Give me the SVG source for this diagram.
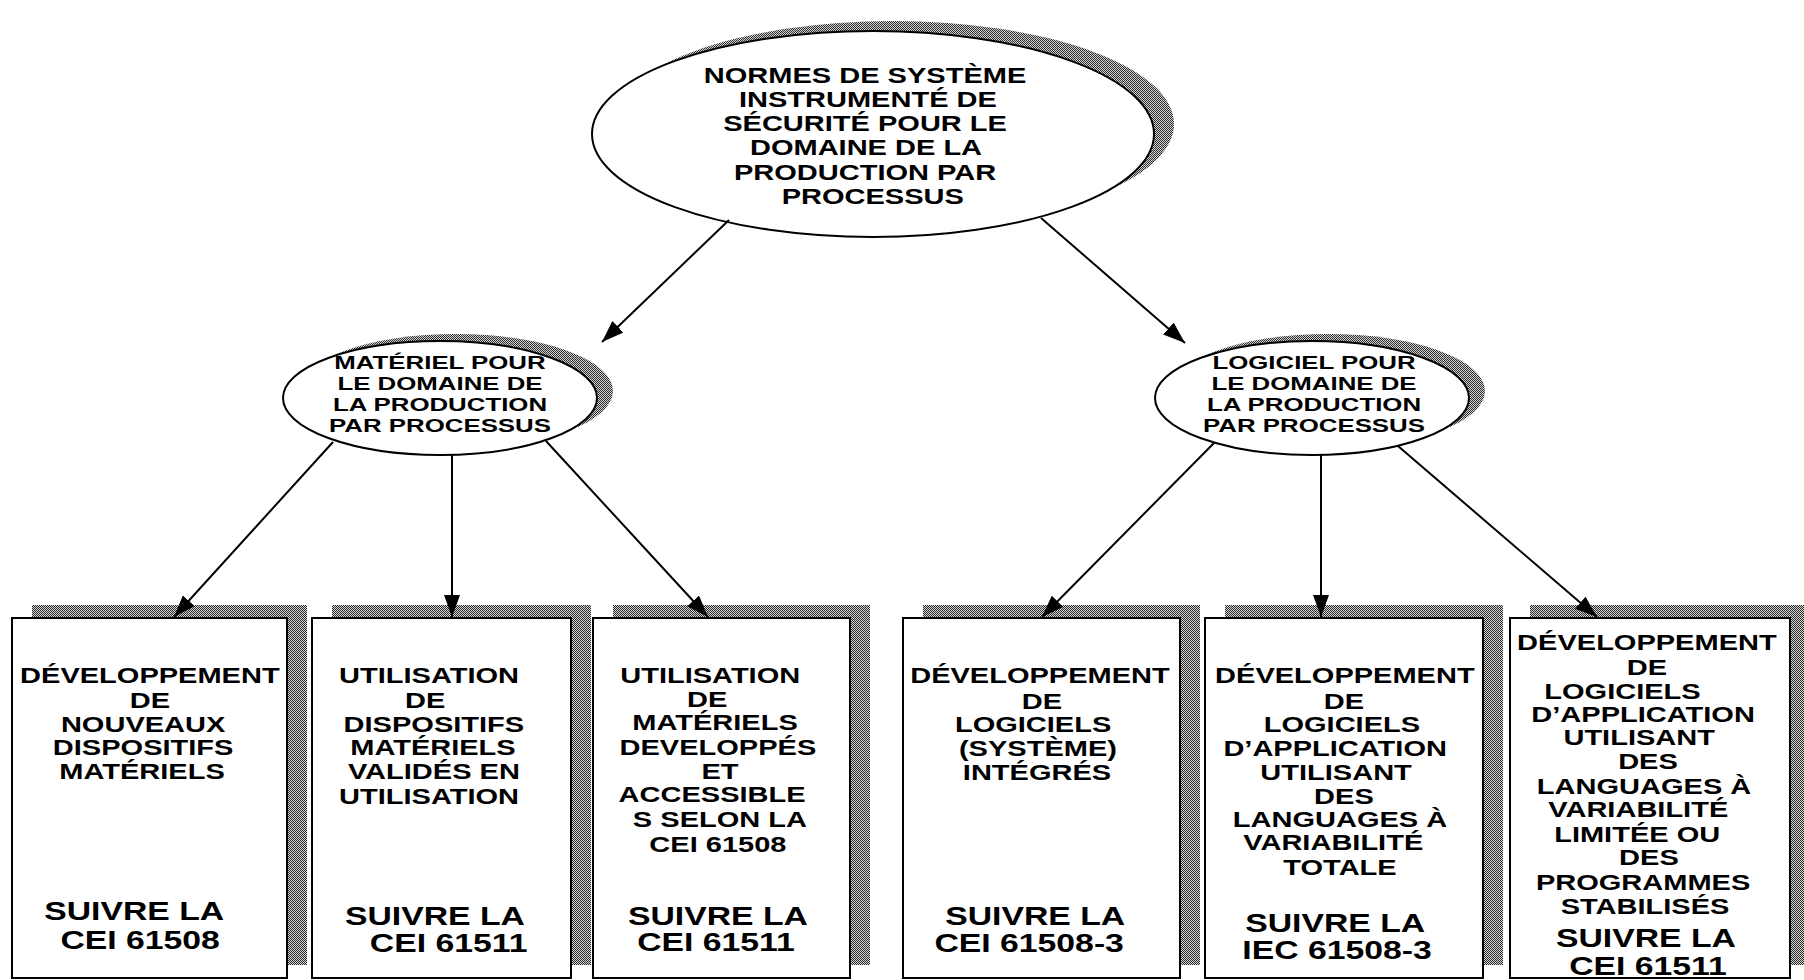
<svg xmlns="http://www.w3.org/2000/svg" width="1804" height="980" viewBox="0 0 1804 980">
  <defs>
    <!-- fine dithered grey used for the drop shadows -->
    <pattern id="hatch" width="2" height="2" patternUnits="userSpaceOnUse">
      <rect width="2" height="2" fill="#d2d2d2"/>
      <rect x="0" y="0" width="1" height="1" fill="#2e2e2e"/>
      <rect x="1" y="1" width="1" height="1" fill="#2e2e2e"/>
    </pattern>
    <marker id="arrow" viewBox="0 0 22 16" refX="22" refY="8" markerWidth="22" markerHeight="16" markerUnits="userSpaceOnUse" orient="auto">
      <path d="M0,0 L22,8 L0,16 z" fill="#000"/>
    </marker>
    <style>
      .t { font-family: "Liberation Sans", Arial, sans-serif; font-weight: bold; text-anchor: middle; fill: #000; }
      .top { font-size: 21.5px; }
      .m { font-size: 19px; }
      .s { font-size: 21.5px; }
      .b { font-size: 25px; }
      .shadow { fill: url(#hatch); stroke: none; }
      .ell { fill: #fff; stroke: #000; stroke-width: 2; }
      .box { fill: #fff; stroke: #000; stroke-width: 2; }
      .conn line { stroke: #000; stroke-width: 2; marker-end: url(#arrow); }
    </style>
  </defs>

  <rect width="1804" height="980" fill="#fff"/>

  <!-- root -->
  <g id="root">
    <ellipse class="shadow" cx="893" cy="124" rx="281" ry="103"/>
    <ellipse class="ell" cx="873" cy="134" rx="281" ry="103"/>
    <g class="t top" transform="translate(866 0) scale(1.35 1)">
      <text x="-0.7" y="83.5">NORMES DE SYSTÈME</text>
      <text x="1.4" y="107.5">INSTRUMENTÉ DE</text>
      <text x="-0.7" y="131.5">SÉCURITÉ POUR LE</text>
      <text x="0" y="155.5">DOMAINE DE LA</text>
      <text x="-0.7" y="180.5">PRODUCTION PAR</text>
      <text x="5" y="204.5">PROCESSUS</text>
    </g>
  </g>

  <!-- hardware branch -->
  <g id="materiel">
    <ellipse class="shadow" cx="456" cy="391" rx="157" ry="57"/>
    <ellipse class="ell" cx="440" cy="398" rx="157" ry="57"/>
    <g class="t m" transform="translate(440 0) scale(1.36 1)">
      <text x="0" y="369">MATÉRIEL POUR</text>
      <text x="0" y="390">LE DOMAINE DE</text>
      <text x="0" y="411">LA PRODUCTION</text>
      <text x="0" y="432">PAR PROCESSUS</text>
    </g>
  </g>

  <!-- software branch -->
  <g id="logiciel">
    <ellipse class="shadow" cx="1328" cy="391" rx="157" ry="57"/>
    <ellipse class="ell" cx="1312" cy="398" rx="157" ry="57"/>
    <g class="t m" transform="translate(1314 0) scale(1.36 1)">
      <text x="0" y="369">LOGICIEL POUR</text>
      <text x="0" y="390">LE DOMAINE DE</text>
      <text x="0" y="411">LA PRODUCTION</text>
      <text x="0" y="432">PAR PROCESSUS</text>
    </g>
  </g>

  <!-- leaf boxes -->
  <g id="box-nouveaux">
    <rect class="shadow" x="32" y="605" width="275" height="360"/>
    <rect class="box" x="12" y="618" width="275" height="360"/>
    <g class="t" transform="translate(145 0) scale(1.35 1)">
      <text class="s" x="3.6" y="683.5">DÉVELOPPEMENT</text>
      <text class="s" x="3.6" y="708.5">DE</text>
      <text class="s" x="-1.4" y="732.5">NOUVEAUX</text>
      <text class="s" x="-1.4" y="755.5">DISPOSITIFS</text>
      <text class="s" x="-2.2" y="779.5">MATÉRIELS</text>
      <text class="b" x="-8" y="920">SUIVRE LA</text>
      <text class="b" x="-3.6" y="949">CEI 61508</text>
    </g>
  </g>

  <g id="box-valides">
    <rect class="shadow" x="332" y="605" width="259" height="360"/>
    <rect class="box" x="312" y="618" width="259" height="360"/>
    <g class="t" transform="translate(432 0) scale(1.35 1)">
      <text class="s" x="-2.2" y="683.5">UTILISATION</text>
      <text class="s" x="-5" y="708.5">DE</text>
      <text class="s" x="1.4" y="732.5">DISPOSITIFS</text>
      <text class="s" x="0.7" y="755.5">MATÉRIELS</text>
      <text class="s" x="1.4" y="779.5">VALIDÉS EN</text>
      <text class="s" x="-2.2" y="804.5">UTILISATION</text>
      <text class="b" x="2.2" y="925">SUIVRE LA</text>
      <text class="b" x="12.3" y="952">CEI 61511</text>
    </g>
  </g>

  <g id="box-accessibles">
    <rect class="shadow" x="613" y="605" width="257" height="360"/>
    <rect class="box" x="593" y="618" width="257" height="360"/>
    <g class="t" transform="translate(716 0) scale(1.35 1)">
      <text class="s" x="-4.3" y="683.5">UTILISATION</text>
      <text class="s" x="-6.5" y="707.5">DE</text>
      <text class="s" x="-0.7" y="730.5">MATÉRIELS</text>
      <text class="s" x="1.4" y="755.5">DEVELOPPÉS</text>
      <text class="s" x="2.9" y="779.5">ET</text>
      <text class="s" x="-2.9" y="802.5">ACCESSIBLE</text>
      <text class="s" x="2.9" y="827.5">S SELON LA</text>
      <text class="s" x="1.4" y="852.5">CEI 61508</text>
      <text class="b" x="1.4" y="925">SUIVRE LA</text>
      <text class="b" x="0" y="951">CEI 61511</text>
    </g>
  </g>

  <g id="box-integres">
    <rect class="shadow" x="923" y="605" width="277" height="360"/>
    <rect class="box" x="903" y="618" width="277" height="360"/>
    <g class="t" transform="translate(1037 0) scale(1.35 1)">
      <text class="s" x="2.2" y="683.5">DÉVELOPPEMENT</text>
      <text class="s" x="3.6" y="709.5">DE</text>
      <text class="s" x="-2.9" y="732.5">LOGICIELS</text>
      <text class="s" x="0.7" y="756.5">(SYSTÈME)</text>
      <text class="s" x="0" y="780.5">INTÉGRÉS</text>
      <text class="b" x="-1.4" y="925">SUIVRE LA</text>
      <text class="b" x="-5.8" y="952">CEI 61508-3</text>
    </g>
  </g>

  <g id="box-totale">
    <rect class="shadow" x="1225" y="605" width="278" height="360"/>
    <rect class="box" x="1205" y="618" width="278" height="360"/>
    <g class="t" transform="translate(1340 0) scale(1.35 1)">
      <text class="s" x="3.6" y="683.5">DÉVELOPPEMENT</text>
      <text class="s" x="2.9" y="709.5">DE</text>
      <text class="s" x="1.4" y="732.5">LOGICIELS</text>
      <text class="s" x="-3.6" y="756.5">D’APPLICATION</text>
      <text class="s" x="-2.9" y="780.5">UTILISANT</text>
      <text class="s" x="2.9" y="804.5">DES</text>
      <text class="s" x="0" y="827.5">LANGUAGES À</text>
      <text class="s" x="-5" y="850.5">VARIABILITÉ</text>
      <text class="s" x="0" y="875.5">TOTALE</text>
      <text class="b" x="-3.6" y="932">SUIVRE LA</text>
      <text class="b" x="-2.2" y="959">IEC 61508-3</text>
    </g>
  </g>

  <g id="box-limitee">
    <rect class="shadow" x="1530" y="605" width="280" height="360"/>
    <rect class="box" x="1510" y="618" width="280" height="360"/>
    <g class="t" transform="translate(1645 0) scale(1.35 1)">
      <text class="s" x="1.4" y="650.5">DÉVELOPPEMENT</text>
      <text class="s" x="1.4" y="675.5">DE</text>
      <text class="s" x="-16.7" y="699.5">LOGICIELS</text>
      <text class="s" x="-1.4" y="722.5">D’APPLICATION</text>
      <text class="s" x="-4.3" y="745.5">UTILISANT</text>
      <text class="s" x="2.2" y="769.5">DES</text>
      <text class="s" x="-0.7" y="794.5">LANGUAGES À</text>
      <text class="s" x="-5" y="817.5">VARIABILITÉ</text>
      <text class="s" x="-5.8" y="842.5">LIMITÉE OU</text>
      <text class="s" x="2.9" y="865.5">DES</text>
      <text class="s" x="-1.4" y="890.5">PROGRAMMES</text>
      <text class="s" x="0" y="914.5">STABILISÉS</text>
      <text class="b" x="0.7" y="947">SUIVRE LA</text>
      <text class="b" x="2.2" y="975">CEI 61511</text>
    </g>
  </g>

  <!-- connectors -->
  <g id="connectors" class="conn">
    <line x1="729" y1="220" x2="602" y2="342"/>
    <line x1="1041" y1="218" x2="1185" y2="343"/>
    <line x1="333" y1="442" x2="174" y2="617"/>
    <line x1="452" y1="455" x2="452" y2="617"/>
    <line x1="546" y1="441" x2="708" y2="617"/>
    <line x1="1214" y1="443" x2="1042" y2="617"/>
    <line x1="1321" y1="455" x2="1321" y2="617"/>
    <line x1="1398" y1="446" x2="1597" y2="617"/>
  </g>
</svg>
